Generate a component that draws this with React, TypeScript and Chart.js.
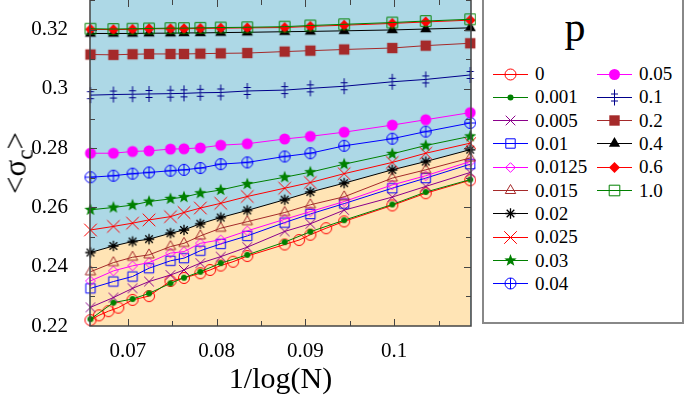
import React, { useEffect, useRef } from 'react';
import { Chart, registerables } from 'chart.js';
Chart.register(...registerables);

// ---------- data ----------
const P_LABELS = ['0', '0.001', '0.005', '0.01', '0.0125', '0.015', '0.02', '0.025', '0.03', '0.04', '0.05', '0.1', '0.2', '0.4', '0.6', '1.0'];

// 1/log(N) positions shared by most series
const X_MAIN = [0.06578, 0.06837, 0.07052, 0.07238, 0.0748, 0.07632, 0.07816, 0.08046, 0.08345, 0.08766, 0.09056, 0.09437, 0.09979, 0.10356, 0.10857];
// positions of the p = 0 series
const X_P0 = [0.06578, 0.06674, 0.06781, 0.06892, 0.07052, 0.07238, 0.0748, 0.07632, 0.07816, 0.07926, 0.08046, 0.08185, 0.08345, 0.08766, 0.08929, 0.09056, 0.09234, 0.09437, 0.09979, 0.10356, 0.10857];

const Y_P0 = [0.222, 0.2236, 0.225, 0.2262, 0.2288, 0.2301, 0.2352, 0.2362, 0.2378, 0.2389, 0.2404, 0.2417, 0.2436, 0.2475, 0.249, 0.2508, 0.253, 0.2553, 0.2607, 0.2648, 0.2692];
const Y_P0001 = [0.2223, 0.2279, 0.2291, 0.231, 0.2344, 0.2363, 0.2383, 0.2412, 0.244, 0.2483, 0.2518, 0.2557, 0.261, 0.2652, 0.2694];
const Y_P0005 = [0.2263, 0.2296, 0.2327, 0.235, 0.2372, 0.2389, 0.2412, 0.2434, 0.2466, 0.2519, 0.2545, 0.2591, 0.2635, 0.2671, 0.2718];
const Y_P001 = [0.2327, 0.235, 0.2367, 0.2395, 0.242, 0.2429, 0.2454, 0.2477, 0.2504, 0.2549, 0.2578, 0.2613, 0.2665, 0.2699, 0.2746];
const Y_P00125 = [0.2352, 0.2386, 0.2403, 0.2414, 0.2446, 0.2451, 0.2479, 0.2491, 0.2521, 0.256, 0.2586, 0.262, 0.2676, 0.2707, 0.2755];
const Y_P0015 = [0.2383, 0.2414, 0.2432, 0.244, 0.2468, 0.2479, 0.2504, 0.253, 0.2552, 0.2583, 0.2609, 0.2636, 0.2699, 0.2727, 0.2767];
const Y_P002 = [0.2448, 0.247, 0.2485, 0.2493, 0.2513, 0.2524, 0.2545, 0.2566, 0.259, 0.2626, 0.2652, 0.2682, 0.2727, 0.2755, 0.2795];
const Y_P0025 = [0.2524, 0.2536, 0.2547, 0.2558, 0.2569, 0.2583, 0.2598, 0.2614, 0.2637, 0.2665, 0.2684, 0.2714, 0.2752, 0.2783, 0.2817];
const Y_P003 = [0.2592, 0.26, 0.2608, 0.262, 0.2629, 0.2635, 0.2648, 0.2659, 0.2679, 0.2702, 0.2719, 0.2746, 0.2781, 0.2809, 0.284];
const Y_P004 = [0.2702, 0.2707, 0.2714, 0.2718, 0.2724, 0.2727, 0.2733, 0.2746, 0.2752, 0.2772, 0.2783, 0.2808, 0.2832, 0.2856, 0.2885];
const Y_P005 = [0.2783, 0.2783, 0.2789, 0.2791, 0.2797, 0.2798, 0.2801, 0.281, 0.2815, 0.2831, 0.284, 0.2854, 0.2878, 0.2896, 0.292];
const Y_P01 = [0.2979, 0.2981, 0.2982, 0.2983, 0.2984, 0.2985, 0.2987, 0.2988, 0.2993, 0.2996, 0.3002, 0.3009, 0.3024, 0.3032, 0.3047];
const Y_P02 = [0.3116, 0.3115, 0.3117, 0.3118, 0.3118, 0.3118, 0.3119, 0.312, 0.3121, 0.3126, 0.3129, 0.3133, 0.3138, 0.3146, 0.3154];
const Y_P04 = [0.3187, 0.3187, 0.3187, 0.3188, 0.3188, 0.3189, 0.3189, 0.319, 0.3191, 0.3193, 0.3194, 0.3196, 0.3199, 0.3202, 0.3206];
const Y_P06 = [0.3201, 0.32, 0.3201, 0.3203, 0.3203, 0.3203, 0.3204, 0.3205, 0.3206, 0.3207, 0.3211, 0.3215, 0.3221, 0.3226, 0.3232];
const Y_P10 = [0.3203, 0.3202, 0.3203, 0.3204, 0.3205, 0.3205, 0.3206, 0.3207, 0.3208, 0.321, 0.3214, 0.3218, 0.3224, 0.3229, 0.3235];

const SERIES_Y = [Y_P0, Y_P0001, Y_P0005, Y_P001, Y_P00125, Y_P0015, Y_P002, Y_P0025, Y_P003, Y_P004, Y_P005, Y_P01, Y_P02, Y_P04, Y_P06, Y_P10];
const SERIES_X = [X_P0, X_MAIN, X_MAIN, X_MAIN, X_MAIN, X_MAIN, X_MAIN, X_MAIN, X_MAIN, X_MAIN, X_MAIN, X_MAIN, X_MAIN, X_MAIN, X_MAIN, X_MAIN];

const X_MIN = 0.06573;
const X_MAX = 0.10866;
const Y_MIN = 0.22;
const Y_MAX = 0.33;

// ---------- styles ----------
const COLORS = ['#FF0000', '#008000', '#8B008B', '#0000FF', '#FF00FF', '#A52A2A', '#000000', '#FF0000', '#008000', '#0000FF', '#FF00FF', '#00008B', '#A52A2A', '#000000', '#FF0000', '#008000'];
const MARKERS = ['circleOpen', 'dot', 'x', 'squareOpen', 'diamondOpen', 'triangleOpen', 'asterisk', 'xBig', 'star5', 'circlePlus', 'dotBig', 'dagger2', 'squareFilled', 'triangleFilled', 'diamondFilled', 'squareOpenBig'];
const BLUE_BG = '#ADD8E6';
const TAN_BG = '#FFE4B5';
const FONT = "'Liberation Serif', 'Times New Roman', serif";
const FILL_INDEX = 6; // p = 0.02 bounds the lower region

function drawMarker(ctx: CanvasRenderingContext2D, kind: string, color: string, x: number, y: number) {
  ctx.save();
  ctx.strokeStyle = color;
  ctx.fillStyle = color;
  ctx.lineWidth = 1;
  ctx.beginPath();
  switch (kind) {
    case 'circleOpen':
      ctx.arc(x, y, 5.5, 0, Math.PI * 2);
      ctx.stroke();
      break;
    case 'dot':
      ctx.arc(x, y, 3, 0, Math.PI * 2);
      ctx.fill();
      break;
    case 'x': {
      const r = 4.8;
      ctx.moveTo(x - r, y - r); ctx.lineTo(x + r, y + r);
      ctx.moveTo(x - r, y + r); ctx.lineTo(x + r, y - r);
      ctx.stroke();
      break;
    }
    case 'xBig': {
      const r = 6.3;
      ctx.moveTo(x - r, y - r); ctx.lineTo(x + r, y + r);
      ctx.moveTo(x - r, y + r); ctx.lineTo(x + r, y - r);
      ctx.stroke();
      break;
    }
    case 'squareOpen':
      ctx.rect(x - 4.7, y - 4.7, 9.4, 9.4);
      ctx.stroke();
      break;
    case 'squareOpenBig':
      ctx.rect(x - 5.3, y - 5.3, 10.6, 10.6);
      ctx.stroke();
      break;
    case 'diamondOpen': {
      const r = 4.8;
      ctx.moveTo(x, y - r); ctx.lineTo(x + r, y); ctx.lineTo(x, y + r); ctx.lineTo(x - r, y); ctx.closePath();
      ctx.stroke();
      break;
    }
    case 'diamondFilled': {
      const r = 5.5;
      ctx.moveTo(x, y - r); ctx.lineTo(x + r, y); ctx.lineTo(x, y + r); ctx.lineTo(x - r, y); ctx.closePath();
      ctx.fill();
      break;
    }
    case 'triangleOpen': {
      const r = 6;
      ctx.moveTo(x, y - r); ctx.lineTo(x + r * 0.866, y + r / 2); ctx.lineTo(x - r * 0.866, y + r / 2); ctx.closePath();
      ctx.stroke();
      break;
    }
    case 'triangleFilled': {
      const r = 6.5;
      ctx.moveTo(x, y - r); ctx.lineTo(x + r * 0.866, y + r / 2); ctx.lineTo(x - r * 0.866, y + r / 2); ctx.closePath();
      ctx.fill();
      break;
    }
    case 'asterisk': {
      const r = 5.2, d = 3.8;
      ctx.moveTo(x, y - r); ctx.lineTo(x, y + r);
      ctx.moveTo(x - r, y); ctx.lineTo(x + r, y);
      ctx.moveTo(x - d, y - d); ctx.lineTo(x + d, y + d);
      ctx.moveTo(x - d, y + d); ctx.lineTo(x + d, y - d);
      ctx.lineWidth = 1.3;
      ctx.stroke();
      break;
    }
    case 'star5': {
      const ro = 6.5, ri = 2.7;
      for (let k = 0; k < 10; k++) {
        const a = -Math.PI / 2 + (k * Math.PI) / 5;
        const r = k % 2 === 0 ? ro : ri;
        const px = x + r * Math.cos(a), py = y + r * Math.sin(a);
        if (k === 0) ctx.moveTo(px, py); else ctx.lineTo(px, py);
      }
      ctx.closePath();
      ctx.fill();
      break;
    }
    case 'circlePlus': {
      const r = 5.5;
      ctx.arc(x, y, r, 0, Math.PI * 2);
      ctx.moveTo(x - r, y); ctx.lineTo(x + r, y);
      ctx.moveTo(x, y - r); ctx.lineTo(x, y + r);
      ctx.stroke();
      break;
    }
    case 'dotBig':
      ctx.arc(x, y, 5.5, 0, Math.PI * 2);
      ctx.fill();
      break;
    case 'dagger2':
      ctx.moveTo(x, y - 8); ctx.lineTo(x, y + 8);
      ctx.moveTo(x - 3.5, y - 3.5); ctx.lineTo(x + 3.5, y - 3.5);
      ctx.moveTo(x - 3.5, y + 3.5); ctx.lineTo(x + 3.5, y + 3.5);
      ctx.stroke();
      break;
    case 'squareFilled':
      ctx.rect(x - 5.2, y - 5.2, 10.4, 10.4);
      ctx.fill();
      break;
  }
  ctx.restore();
}

function markerCanvas(kind: string, color: string): HTMLCanvasElement {
  const c = document.createElement('canvas');
  c.width = 24;
  c.height = 24;
  const ctx = c.getContext('2d')!;
  drawMarker(ctx, kind, color, 12, 12);
  return c;
}

const fmt = (v: any) => {
  let s = Number(v).toFixed(2);
  if (s.endsWith('0')) s = s.slice(0, -1);
  return s;
};

const bgPlugin = {
  id: 'bgPlugin',
  beforeDraw(chart: any) {
    const { ctx, chartArea: a } = chart;
    ctx.save();
    ctx.fillStyle = BLUE_BG;
    ctx.fillRect(a.left, a.top, a.right - a.left, a.bottom - a.top);
    ctx.restore();
  },
};

const framePlugin = {
  id: 'framePlugin',
  afterDatasetsDraw(chart: any) {
    const { ctx, chartArea: a, scales } = chart;
    const xs = scales.x, ys = scales.y;
    ctx.save();
    ctx.strokeStyle = '#444';
    ctx.lineWidth = 1.5;
    ctx.beginPath();
    ctx.moveTo(a.left, a.top);
    ctx.lineTo(a.left, a.bottom);
    ctx.lineTo(a.right, a.bottom);
    ctx.lineTo(a.right, a.top);
    ctx.stroke();
    ctx.lineWidth = 1;
    ctx.beginPath();
    for (let k = 23; k <= 33; k++) {
      const py = Math.round(ys.getPixelForValue(k / 100)) + 0.5;
      const len = k % 2 === 0 ? 7 : 5;
      ctx.moveTo(a.left, py); ctx.lineTo(a.left + len, py);
      ctx.moveTo(a.right, py); ctx.lineTo(a.right - len, py);
    }
    for (let k = 14; k <= 21; k++) {
      const px = Math.round(xs.getPixelForValue(k * 0.005)) + 0.5;
      const len = k % 2 === 0 ? 7 : 5;
      ctx.moveTo(px, a.bottom); ctx.lineTo(px, a.bottom - len);
      ctx.moveTo(px, a.top); ctx.lineTo(px, a.top + len);
    }
    ctx.stroke();
    ctx.restore();
  },
};

const zeroPad = (s: any) => {
  s.paddingTop = 0;
  s.paddingBottom = 0;
  s.paddingLeft = 0;
  s.paddingRight = 0;
};

function LegendIcon({ index, left, top }: { index: number; left: number; top: number }) {
  const ref = useRef<HTMLCanvasElement>(null);
  useEffect(() => {
    const c = ref.current;
    if (!c) return;
    const ctx = c.getContext('2d')!;
    ctx.clearRect(0, 0, c.width, c.height);
    ctx.strokeStyle = COLORS[index];
    ctx.lineWidth = 1;
    ctx.beginPath();
    ctx.moveTo(2, 10.5);
    ctx.lineTo(37, 10.5);
    ctx.stroke();
    drawMarker(ctx, MARKERS[index], COLORS[index], 19.5, 10.5);
  }, [index]);
  return <canvas ref={ref} width={40} height={21} style={{ position: 'absolute', left, top }} />;
}

export default function App() {
  const canvasRef = useRef<HTMLCanvasElement>(null);

  useEffect(() => {
    const canvas = canvasRef.current;
    if (!canvas) return;
    const datasets = SERIES_Y.map((ys, i) => {
      const xsArr = SERIES_X[i];
      const img = markerCanvas(MARKERS[i], COLORS[i]);
      return {
        label: P_LABELS[i],
        data: ys.map((y, j) => ({ x: xsArr[j], y })),
        borderColor: COLORS[i],
        backgroundColor: i === FILL_INDEX ? TAN_BG : COLORS[i],
        borderWidth: 1,
        pointStyle: img,
        pointRadius: 5,
        pointHoverRadius: 5,
        tension: 0,
        fill: i === FILL_INDEX ? 'start' : false,
        clip: false as any,
        order: -i,
      };
    });

    const chart = new Chart(canvas, {
      type: 'line',
      data: { datasets },
      options: {
        responsive: false,
        animation: false,
        events: [],
        layout: { autoPadding: false, padding: { left: 0, right: 5, top: 0, bottom: 0 } } as any,
        plugins: {
          legend: { display: false },
          tooltip: { enabled: false },
          filler: { drawTime: 'beforeDatasetsDraw' } as any,
        },
        scales: {
          x: {
            type: 'linear',
            min: X_MIN,
            max: X_MAX,
            grid: { display: false },
            border: { display: false },
            ticks: {
              stepSize: 0.01,
              includeBounds: false,
              padding: 5,
              maxRotation: 0,
              autoSkip: false,
              color: '#000',
              font: { family: FONT, size: 21 },
              callback: fmt,
            } as any,
            title: {
              display: true,
              text: '1/log(N)',
              color: '#000',
              font: { family: FONT, size: 30 },
              padding: { top: 0, bottom: 2 },
            },
            afterFit: (s: any) => { s.height = 74; zeroPad(s); },
          },
          y: {
            type: 'linear',
            min: Y_MIN,
            max: Y_MAX,
            grid: { display: false },
            border: { display: false },
            ticks: {
              stepSize: 0.02,
              includeBounds: false,
              padding: 14,
              color: '#000',
              font: { family: FONT, size: 21 },
              callback: fmt,
            } as any,
            afterFit: (s: any) => { s.width = 90; zeroPad(s); },
          },
        },
      },
      plugins: [bgPlugin, framePlugin],
    });
    return () => chart.destroy();
  }, []);

  const rowTop = (r: number) => 74 + r * 23.3;

  return (
    <div style={{ position: 'absolute', left: 0, top: 0, width: 685, height: 400, background: '#fff', overflow: 'hidden' }}>
      <canvas ref={canvasRef} width={476} height={400} style={{ position: 'absolute', left: 0, top: 0 }} />
      <div
        style={{
          position: 'absolute',
          left: 18,
          top: 163,
          transform: 'translate(-50%, -50%) rotate(-90deg)',
          fontFamily: FONT,
          fontSize: 31,
          lineHeight: 1,
          whiteSpace: 'nowrap',
          color: '#000',
        }}
      >
        &lt;σ<sub style={{ fontSize: '0.75em', verticalAlign: '-0.28em' }}>c</sub>&gt;
      </div>
      <div
        style={{
          position: 'absolute',
          left: 482,
          top: -2,
          width: 198,
          height: 322,
          border: '2px solid #888',
          background: '#fff',
        }}
      />
      <div
        style={{
          position: 'absolute',
          left: 575,
          top: 6,
          transform: 'translateX(-50%)',
          fontFamily: FONT,
          fontSize: 42,
          lineHeight: '42px',
          color: '#000',
        }}
      >
        p
      </div>
      {P_LABELS.map((lab, i) => {
        const col = i < 10 ? 0 : 1;
        const row = i < 10 ? i : i - 10;
        const cy = rowTop(row);
        const iconLeft = col === 0 ? 491 : 595;
        const textLeft = col === 0 ? 535 : 639;
        return (
          <React.Fragment key={lab}>
            <LegendIcon index={i} left={iconLeft} top={Math.round(cy - 10.5)} />
            <div
              style={{
                position: 'absolute',
                left: textLeft,
                top: cy - 9.9,
                fontFamily: FONT,
                fontSize: 19,
                lineHeight: '19px',
                color: '#000',
                whiteSpace: 'nowrap',
              }}
            >
              {lab}
            </div>
          </React.Fragment>
        );
      })}
    </div>
  );
}
